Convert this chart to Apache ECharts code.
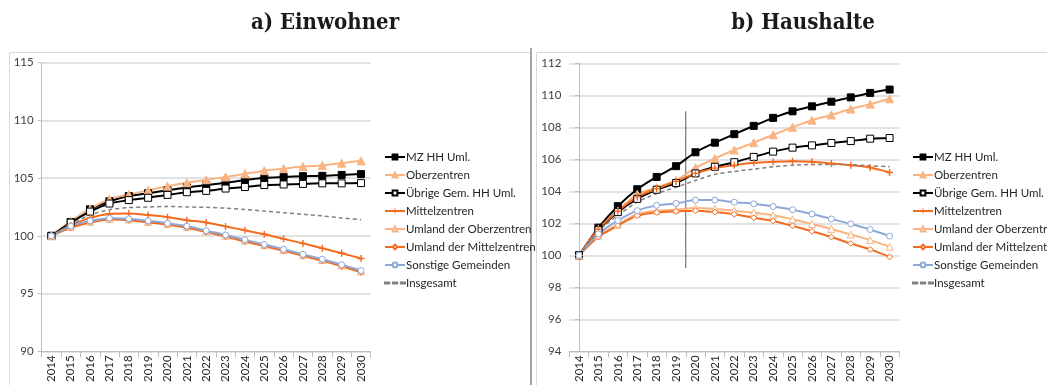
<!DOCTYPE html>
<html>
<head>
<meta charset="utf-8">
<script src="https://cdn.jsdelivr.net/npm/echarts@6/dist/echarts.min.js"></script>
<style>
  html, body { margin: 0; padding: 0; background: #fff; }
  #chart { width: 1047px; height: 385px; }
</style>
</head>
<body>
<div id="chart"></div>
<script>
// Years on the horizontal axis
const years = ['2014','2015','2016','2017','2018','2019','2020','2021','2022','2023','2024','2025','2026','2027','2028','2029','2030'];

// Series names (legend order)
const seriesNames = ['MZ HH Uml.', 'Oberzentren', 'Übrige Gem. HH Uml.', 'Mittelzentren',
  'Umland der Oberzentren', 'Umland der Mittelzentren', 'Sonstige Gemeinden', 'Insgesamt'];

// a) Einwohner, index 2014 = 100
const einwMZ       = [100,101.2,102.3,103.0,103.45,103.7,103.95,104.2,104.4,104.6,104.83,105.03,105.1,105.17,105.2,105.28,105.35];
const einwOber     = [100,101.25,102.33,103.18,103.58,103.95,104.3,104.6,104.86,105.1,105.37,105.65,105.82,106.0,106.1,106.3,106.5];
const einwUebrige  = [100,101.15,102.1,102.8,103.1,103.3,103.55,103.78,103.9,104.1,104.23,104.4,104.45,104.5,104.55,104.55,104.57];
const einwMittel   = [100,100.9,101.56,101.9,101.93,101.8,101.62,101.36,101.16,100.82,100.48,100.14,99.74,99.35,98.92,98.5,98.04];
const einwUmOber   = [100,100.78,101.23,101.48,101.42,101.23,101.03,100.78,100.4,100.01,99.59,99.19,98.77,98.33,97.91,97.43,96.92];
const einwUmMittel = [100,100.7,101.16,101.42,101.36,101.16,100.96,100.7,100.34,99.94,99.52,99.12,98.7,98.27,97.84,97.36,96.85];
const einwSonst    = [100,100.85,101.3,101.53,101.48,101.3,101.1,100.85,100.45,100.08,99.66,99.26,98.84,98.4,97.98,97.5,97.0];
const einwGesamt   = [100,101.0,101.8,102.27,102.45,102.5,102.55,102.5,102.47,102.4,102.28,102.15,102.0,101.87,101.73,101.55,101.4];

// b) Haushalte, index 2014 = 100
const hhMZ       = [100,101.73,103.07,104.13,104.9,105.57,106.44,107.04,107.57,108.09,108.59,109.0,109.31,109.6,109.87,110.15,110.36];
const hhOber     = [100,101.63,102.77,103.82,104.23,104.68,105.47,106.05,106.58,107.04,107.53,108.0,108.44,108.77,109.14,109.45,109.78];
const hhUebrige  = [100,101.57,102.7,103.53,104.1,104.52,105.12,105.53,105.82,106.15,106.48,106.73,106.87,107.02,107.14,107.29,107.33];
const hhMittel   = [100,101.63,102.75,103.65,104.17,104.62,105.12,105.45,105.63,105.78,105.84,105.88,105.84,105.74,105.63,105.49,105.18];
const hhUmOber   = [100,101.22,101.92,102.58,102.79,102.85,102.95,102.89,102.79,102.66,102.5,102.25,101.96,101.65,101.3,100.95,100.54];
const hhUmMittel = [100,101.16,101.86,102.48,102.68,102.75,102.79,102.7,102.56,102.35,102.15,101.84,101.5,101.14,100.74,100.37,99.9];
const hhSonst    = [100,101.34,102.17,102.79,103.12,103.24,103.45,103.45,103.32,103.22,103.05,102.85,102.58,102.27,101.96,101.61,101.2];
const hhGesamt   = [100,101.53,102.5,103.32,103.86,104.25,104.68,105.06,105.24,105.39,105.53,105.63,105.68,105.68,105.66,105.6,105.53];

// Marker line between 2019 and 2020 (x in category units, y in index values)
const assimLine = [[5.5, 109], [5.5, 99.2]];
const assimText = 'Haushaltsgröße Flüchtlinge assimiliert';

const BLACK = '#000000';
const PEACH = '#F9B482';
const ORANGE = '#F46B1E';
const BLUE = '#8EA8D8';
const GREY = '#808080';
const PLUS = 'path://M4,0H6V4H10V6H6V10H4V6H0V4H4Z';
// Legend icon for the dashed total line: three short dashes
const DASH_ICON = 'path://M0,0H4V1.1H0Z M7.5,0H11.5V1.1H7.5Z M15,0H19V1.1H15Z';

// Per-series look: line colour, marker and marker fill
const styles = [
  { color: BLACK,  symbol: 'rect',     size: 7, fill: BLACK,  width: 2 },
  { color: PEACH,  symbol: 'triangle', size: 8, fill: PEACH,  width: 2 },
  { color: BLACK,  symbol: 'rect',     size: 7, fill: '#fff', width: 2 },
  { color: ORANGE, symbol: PLUS,       size: 7, fill: ORANGE, width: 2 },
  { color: PEACH,  symbol: 'triangle', size: 7, fill: '#fff', width: 2 },
  { color: ORANGE, symbol: 'diamond',  size: 6, fill: '#fff', width: 2 },
  { color: BLUE,   symbol: 'circle',   size: 6, fill: '#fff', width: 2 },
  { color: GREY,   symbol: 'none',     size: 0, fill: GREY,   width: 1.5, dashed: true }
];

function buildSeries(dataSets, gridIdx) {
  return dataSets.map((data, i) => {
    const s = styles[i];
    return {
      name: seriesNames[i],
      type: 'line',
      xAxisIndex: gridIdx,
      yAxisIndex: gridIdx,
      data: data,
      symbol: s.symbol,
      symbolSize: s.size,
      showSymbol: s.symbol !== 'none',
      smooth: 0.25,
      lineStyle: { color: s.color, width: s.width, type: s.dashed ? [4, 3] : 'solid' },
      itemStyle: { color: s.fill, borderColor: s.color, borderWidth: s.symbol === PLUS ? 0 : 1 },
      color: s.color,
      z: 3
    };
  });
}

const FONT = 'Lato, "Open Sans", sans-serif';

function yAxis(gridIdx, min, max, interval) {
  return {
    type: 'value', gridIndex: gridIdx, min: min, max: max, interval: interval,
    axisLine: { show: true, lineStyle: { color: '#BFBFBF', width: 1 } },
    axisTick: { show: true, length: 4, lineStyle: { color: '#BFBFBF' } },
    axisLabel: { color: '#404040', fontSize: 11.5, fontFamily: FONT, margin: 8 },
    splitLine: { show: true, lineStyle: { color: '#D9D9D9', width: 1.5 } }
  };
}

function xAxis(gridIdx) {
  return {
    type: 'category', gridIndex: gridIdx, data: years, boundaryGap: true,
    axisLine: { show: true, lineStyle: { color: '#BFBFBF', width: 1 } },
    axisTick: { show: true, length: 6, interval: 0, lineStyle: { color: '#BFBFBF' } },
    axisLabel: { rotate: 90, interval: 0, color: '#262626', fontSize: 11.5, fontFamily: FONT, margin: 4 },
    splitLine: { show: false }
  };
}

function legend(left) {
  return {
    orient: 'vertical', left: left, top: 146,
    itemWidth: 20, itemHeight: 6, itemGap: 6,
    data: seriesNames.map(n => n === 'Insgesamt' ? { name: n, icon: DASH_ICON } : n),
    textStyle: { color: '#262626', fontSize: 11.5, fontFamily: FONT, padding: [0, 0, 0, -4] },
    selectedMode: false
  };
}

const chart = echarts.init(document.getElementById('chart'), null, { renderer: 'canvas' });

chart.setOption({
  animation: false,
  backgroundColor: '#fff',
  title: [
    { text: 'a) Einwohner', left: 320, top: 7, textAlign: 'center',
      textStyle: { fontFamily: '"DejaVu Serif Condensed", serif', fontWeight: 'bold', fontSize: 22, color: '#1a1a1a' } },
    { text: 'b) Haushalte', left: 798, top: 7, textAlign: 'center',
      textStyle: { fontFamily: '"DejaVu Serif Condensed", serif', fontWeight: 'bold', fontSize: 22, color: '#1a1a1a' } }
  ],
  graphic: [
    { type: 'rect', shape: { x: 9.5, y: 52.5, width: 521, height: 345 }, style: { fill: 'none', stroke: '#D9D9D9', lineWidth: 1 }, z: -1 },
    { type: 'line', shape: { x1: 531, y1: 48, x2: 531, y2: 385 }, style: { stroke: '#8C8C8C', lineWidth: 1.5 }, z: -1 },
    { type: 'rect', shape: { x: 536.5, y: 52.5, width: 520, height: 345 }, style: { fill: 'none', stroke: '#D9D9D9', lineWidth: 1 }, z: -1 }
  ],
  legend: [legend(379), legend(907)],
  grid: [
    { left: 41.7, top: 62.7, width: 329, height: 291.3 },
    { left: 569.3, top: 63.3, width: 330, height: 290.7 }
  ],
  xAxis: [
    xAxis(0),
    xAxis(1),
    { type: 'value', gridIndex: 1, min: -0.5, max: 16.5, show: false }
  ],
  yAxis: [
    yAxis(0, 90, 115, 5),
    yAxis(1, 94, 112, 2)
  ],
  series: [
    ...buildSeries([einwMZ, einwOber, einwUebrige, einwMittel, einwUmOber, einwUmMittel, einwSonst, einwGesamt], 0),
    ...buildSeries([hhMZ, hhOber, hhUebrige, hhMittel, hhUmOber, hhUmMittel, hhSonst, hhGesamt], 1),
    {
      name: 'assim', type: 'line', xAxisIndex: 2, yAxisIndex: 1,
      data: [
        { value: assimLine[0] },
        { value: assimLine[1], label: { show: true, position: 'bottom', align: 'left', distance: 4,
            formatter: assimText, fontSize: 8, color: '#262626', fontFamily: FONT } }
      ],
      symbol: 'none', lineStyle: { color: '#595959', width: 1 }, z: 2, silent: true
    }
  ]
});
</script>
</body>
</html>
